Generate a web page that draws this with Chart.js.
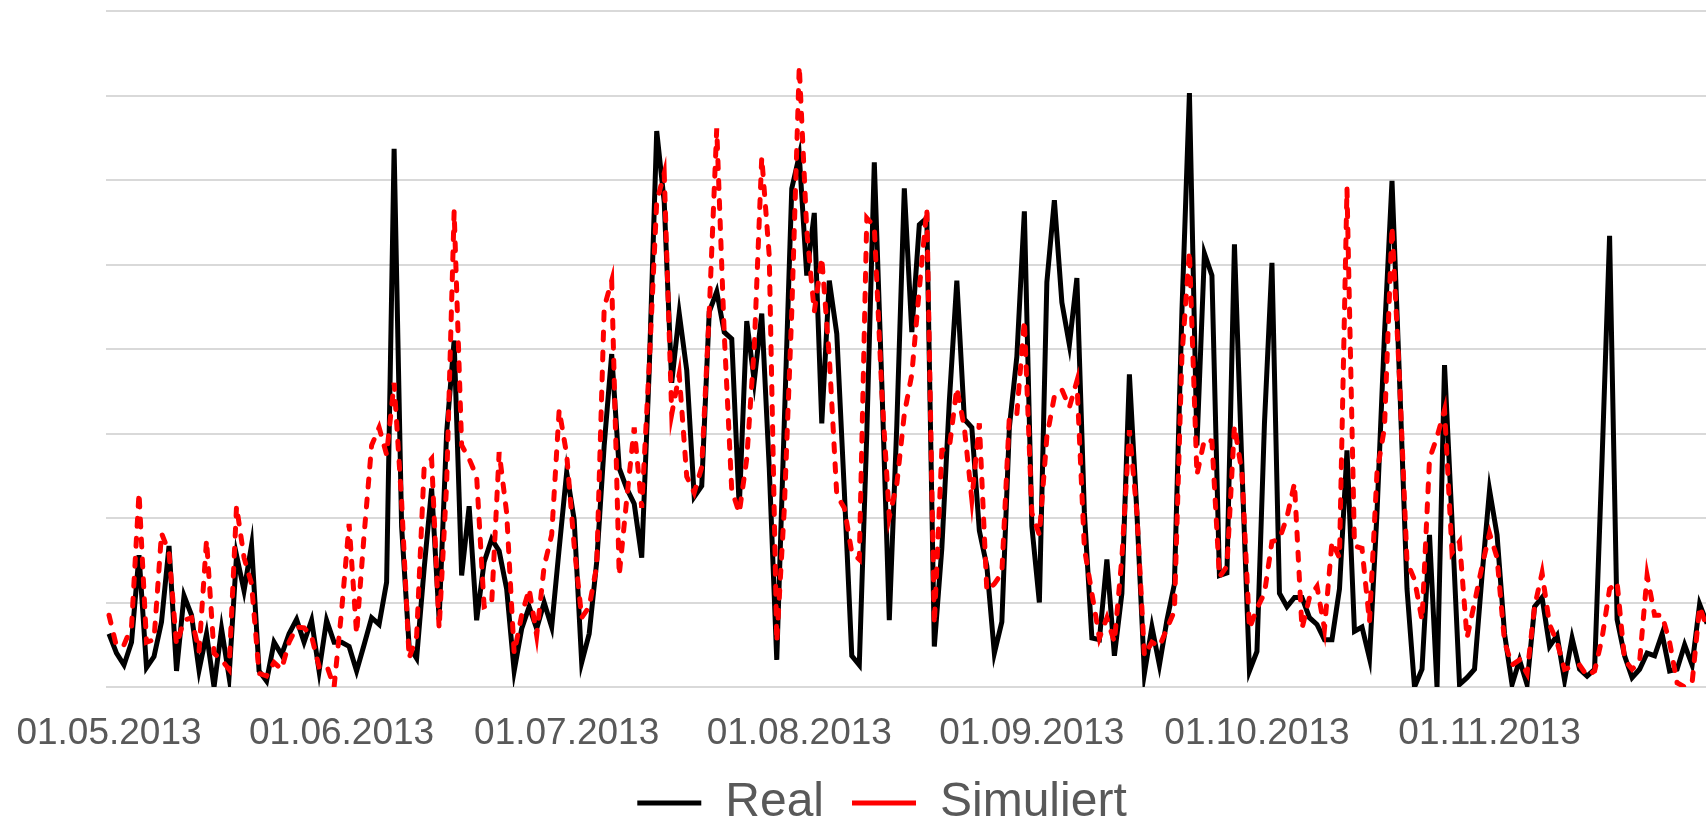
<!DOCTYPE html>
<html>
<head>
<meta charset="utf-8">
<script src="https://cdn.jsdelivr.net/npm/chart.js@4/dist/chart.umd.min.js"></script>
<style>
  body { margin: 0; background: #fff; }
</style>
</head>
<body>
<canvas id="line-chart" width="1706" height="825"></canvas>
<script>
// Month labels and their day offsets from 01.05.2013
const monthLabels = ['01.05.2013', '01.06.2013', '01.07.2013', '01.08.2013', '01.09.2013', '01.10.2013', '01.11.2013'];
const monthDays = [0, 31, 61, 92, 123, 153, 184];

// daily values, 01.05.2013 - 30.11.2013
const realValues = [
    6.3, 4.0, 2.6, 5.3, 15.6, 2.3, 3.6, 7.7, 16.7, 1.9,
    10.8, 8.5, 2.0, 6.3, 0, 6.9, 1.2, 15.6, 11.4, 16.8,
    1.9, 0.7, 5.3, 3.8, 6.3, 8.0, 5.3, 7.9, 1.9, 7.9,
    5.3, 5.3, 4.8, 1.9, 5.0, 8.2, 7.4, 12.4, 63.7, 19.0,
    4.8, 3.4, 14.0, 23.5, 8.0, 30.1, 41.0, 13.2, 21.4, 7.9,
    14.8, 17.5, 16.1, 11.6, 1.9, 6.9, 9.5, 6.9, 10.0, 7.1,
    16.4, 25.4, 19.8, 2.9, 6.3, 14.8, 28.6, 39.4, 25.9, 23.5,
    21.7, 15.3, 37.5, 65.8, 57.4, 36.0, 44.2, 37.5, 22.5, 23.8,
    44.4, 46.8, 42.0, 41.2, 21.2, 43.3, 36.2, 44.2, 25.9, 3.2,
    31.2, 59.0, 62.9, 48.7, 56.1, 31.2, 48.1, 41.8, 23.3, 3.7,
    2.6, 30.0, 62.1, 36.0, 7.9, 31.0, 59.0, 42.0, 54.7, 55.5,
    4.8, 16.4, 33.8, 48.1, 31.7, 30.7, 18.5, 14.3, 4.0, 7.7,
    30.7, 39.1, 56.3, 19.0, 10.0, 47.9, 57.6, 45.5, 40.5, 48.4,
    20.6, 5.8, 5.6, 15.1, 3.7, 11.1, 37.0, 20.6, 1.6, 7.1,
    2.6, 7.9, 12.2, 44.4, 70.3, 28.6, 51.3, 48.7, 13.2, 13.5,
    52.4, 25.9, 1.9, 4.2, 31.2, 50.2, 11.1, 9.5, 10.6, 10.6,
    8.2, 7.4, 5.6, 5.6, 11.6, 28.0, 6.6, 7.1, 3.4, 20.6,
    41.8, 59.9, 36.5, 11.6, 0, 2.1, 18.0, 0, 38.1, 19.6,
    0.3, 1.1, 2.1, 13.2, 23.3, 18.0, 6.3, 0.3, 3.2, 0.3,
    9.5, 10.6, 4.8, 6.1, 0.8, 5.8, 2.1, 1.3, 2.1, 27.0,
    53.4, 8.0, 3.7, 1.1, 2.1, 4.0, 3.7, 6.3, 1.9, 2.1,
    5.0, 2.6, 9.8, 7.5
];
const simValues = [
    8.5, 4.8, 5.0, 7.1, 23.0, 5.3, 5.6, 18.2, 15.9, 5.0,
    7.9, 8.2, 4.2, 17.4, 4.0, 3.2, 2.1, 21.4, 15.3, 12.2,
    1.6, 1.3, 2.9, 2.1, 5.3, 7.1, 7.0, 6.0, 2.4, 2.6,
    0, 9.0, 19.3, 6.3, 18.0, 28.6, 30.7, 27.5, 36.0, 22.0,
    3.4, 6.0, 25.9, 27.0, 6.9, 24.0, 56.3, 28.6, 27.0, 24.9,
    9.5, 9.8, 27.8, 20.6, 4.0, 8.5, 11.6, 6.1, 14.3, 18.0,
    32.8, 27.5, 16.7, 8.2, 9.5, 14.3, 44.9, 48.1, 13.2, 22.2,
    30.7, 21.2, 38.1, 57.4, 60.8, 32.3, 37.0, 24.9, 23.0, 26.0,
    44.4, 66.1, 41.8, 23.3, 20.6, 27.0, 40.2, 62.7, 51.0, 5.3,
    21.0, 44.4, 73.5, 54.0, 44.4, 50.8, 39.1, 22.7, 21.2, 15.9,
    15.1, 55.5, 54.5, 35.0, 20.1, 24.0, 32.3, 37.0, 47.1, 56.6,
    7.4, 28.0, 28.3, 35.4, 30.7, 22.2, 31.2, 11.4, 12.2, 13.5,
    32.0, 32.3, 43.4, 20.6, 18.0, 29.6, 34.4, 35.2, 33.1, 36.2,
    16.4, 11.1, 5.8, 8.2, 5.3, 15.3, 30.4, 20.6, 3.7, 5.3,
    4.8, 6.9, 9.0, 39.1, 51.6, 25.1, 29.3, 29.1, 13.0, 14.3,
    30.9, 25.4, 6.9, 9.3, 11.1, 17.2, 17.5, 20.1, 24.1, 6.9,
    10.6, 11.9, 6.9, 17.2, 15.3, 59.0, 16.7, 16.4, 7.7, 25.4,
    30.7, 54.5, 36.5, 14.8, 12.7, 7.9, 27.0, 29.6, 32.8, 15.9,
    17.2, 5.8, 10.0, 14.3, 18.2, 15.3, 5.3, 2.6, 3.2, 1.6,
    9.5, 13.5, 7.4, 5.3, 2.1, 2.4, 2.6, 1.3, 1.9, 5.8,
    11.6, 12.4, 3.2, 2.1, 3.0, 13.2, 8.5, 8.5, 5.3, 0.5,
    0, 0.5, 9.5, 7.0
];

Chart.defaults.font.family = '"Liberation Sans", Arial, sans-serif';
Chart.defaults.color = '#595959';

// x is the day number counted from 01.05.2013
function toPoints(values) {
    return values.map(function (v, i) { return { x: i, y: v }; });
}

const config = {
    type: 'line',
    data: {
        datasets: [{
            label: 'Real',
            data: toPoints(realValues),
            borderColor: '#000000',
            backgroundColor: '#000000',
            borderWidth: 5,
            pointRadius: 0,
            tension: 0,
            order: 1
        }, {
            label: 'Simuliert',
            data: toPoints(simValues),
            borderColor: '#ff0000',
            backgroundColor: '#ff0000',
            borderWidth: 5,
            borderDash: [8, 12],
            borderCapStyle: 'round',
            pointRadius: 0,
            tension: 0,
            order: 0
        }]
    },
    options: {
        responsive: false,
        animation: false,
        // negative bottom padding pulls the legend closer to the axis labels
        layout: { padding: { left: 58, top: 11, right: 0, bottom: -12 } },
        scales: {
            x: {
                type: 'linear',
                min: -0.4,
                max: 212.85,
                grid: { display: false, drawTicks: false },
                border: { display: false },
                afterBuildTicks: function (axis) {
                    axis.ticks = monthDays.map(function (d) { return { value: d }; });
                },
                afterFit: function (axis) { axis.height = 64; },
                ticks: {
                    autoSkip: false,
                    maxRotation: 0,
                    // small padding keeps the first label from pushing the plot right,
                    // the tall line height moves the labels down instead
                    padding: 15,
                    font: { size: 37, lineHeight: 1.7 },
                    callback: function (value) {
                        return monthLabels[monthDays.indexOf(value)];
                    }
                }
            },
            y: {
                min: 0,
                max: 80,
                afterFit: function (axis) { axis.width = 48; },
                ticks: { display: false, stepSize: 10 },
                grid: { color: '#d9d9d9', lineWidth: 2, drawTicks: false },
                border: { display: false }
            }
        },
        plugins: {
            legend: {
                position: 'bottom',
                labels: {
                    usePointStyle: true,
                    pointStyle: 'line',
                    pointStyleWidth: 64,
                    padding: 28,
                    font: { size: 48 },
                    sort: function (a, b) { return a.datasetIndex - b.datasetIndex; }
                }
            },
            tooltip: { enabled: false }
        }
    }
};

const lineChart = new Chart(document.getElementById('line-chart'), config);
</script>
</body>
</html>
